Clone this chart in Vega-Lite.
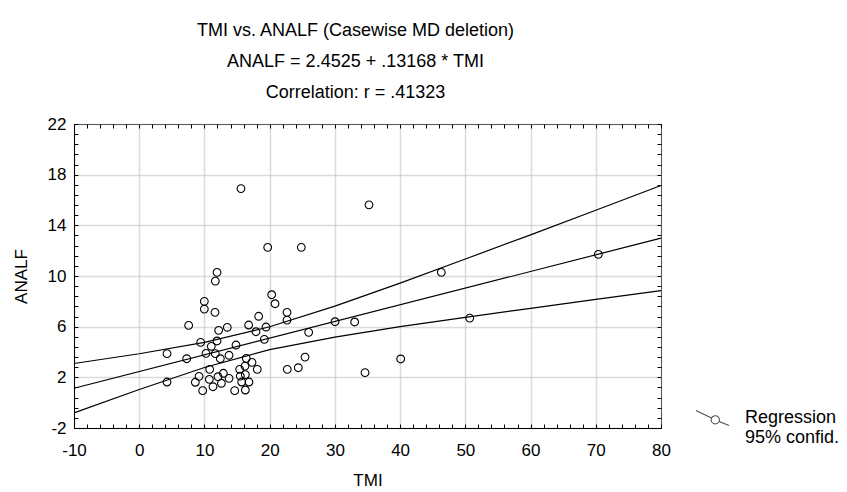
{
  "$schema": "https://vega.github.io/schema/vega-lite/v6.json",
  "width": 587,
  "height": 304,
  "autosize": {"type": "none"},
  "padding": {"left": 74, "top": 124, "right": 186, "bottom": 64},
  "background": "white",
  "config": {
    "font": "Liberation Sans",
    "view": {"stroke": "black", "strokeWidth": 1},
    "axis": {
      "labelFont": "Liberation Sans",
      "labelFontSize": 17,
      "labelColor": "black",
      "titleFont": "Liberation Sans",
      "titleFontSize": 17,
      "titleFontWeight": "normal",
      "titleColor": "black",
      "tickColor": "black",
      "domainColor": "black",
      "labelOverlap": false,
      "labelFlush": false,
      "labelBound": false,
      "gridColor": "#b8b8b8",
      "gridDash": [1, 1],
      "gridWidth": 1.5
    }
  },
  "title": {
    "text": ["TMI vs. ANALF (Casewise MD deletion)", "ANALF = 2.4525 + .13168 * TMI", "Correlation: r = .41323"],
    "font": "Liberation Sans",
    "fontSize": 18,
    "fontWeight": "normal",
    "color": "black",
    "lineHeight": 31,
    "anchor": "middle",
    "dx": -12,
    "offset": 13
  },
  "datasets": {
    "lines": [
      {"curve": "reg", "TMI": -10, "ANALF": 1.14},
      {"curve": "reg", "TMI": 80, "ANALF": 12.99},
      {"curve": "upper", "TMI": -10, "ANALF": 3.09},
      {"curve": "upper", "TMI": 0, "ANALF": 3.86},
      {"curve": "upper", "TMI": 10, "ANALF": 4.76},
      {"curve": "upper", "TMI": 20, "ANALF": 5.99},
      {"curve": "upper", "TMI": 30, "ANALF": 7.62},
      {"curve": "upper", "TMI": 40, "ANALF": 9.44},
      {"curve": "upper", "TMI": 50, "ANALF": 11.34},
      {"curve": "upper", "TMI": 60, "ANALF": 13.25},
      {"curve": "upper", "TMI": 70, "ANALF": 15.19},
      {"curve": "upper", "TMI": 80, "ANALF": 17.14},
      {"curve": "lower", "TMI": -10, "ANALF": -0.81},
      {"curve": "lower", "TMI": 0, "ANALF": 1.04},
      {"curve": "lower", "TMI": 10, "ANALF": 2.78},
      {"curve": "lower", "TMI": 20, "ANALF": 4.19},
      {"curve": "lower", "TMI": 30, "ANALF": 5.18},
      {"curve": "lower", "TMI": 40, "ANALF": 6.0},
      {"curve": "lower", "TMI": 50, "ANALF": 6.74},
      {"curve": "lower", "TMI": 60, "ANALF": 7.45},
      {"curve": "lower", "TMI": 70, "ANALF": 8.15},
      {"curve": "lower", "TMI": 80, "ANALF": 8.84}
    ],
    "pts": [
      {"TMI": 19.7, "ANALF": 12.26}, {"TMI": 24.85, "ANALF": 12.26}, {"TMI": 11.93, "ANALF": 10.29},
      {"TMI": 11.67, "ANALF": 9.6}, {"TMI": 9.98, "ANALF": 8.0}, {"TMI": 9.98, "ANALF": 7.39},
      {"TMI": 11.62, "ANALF": 7.13}, {"TMI": 20.31, "ANALF": 8.52}, {"TMI": 20.82, "ANALF": 7.81},
      {"TMI": 22.66, "ANALF": 7.13}, {"TMI": 22.66, "ANALF": 6.52}, {"TMI": 7.58, "ANALF": 6.1},
      {"TMI": 18.31, "ANALF": 6.82}, {"TMI": 16.78, "ANALF": 6.13}, {"TMI": 19.44, "ANALF": 5.97},
      {"TMI": 17.9, "ANALF": 5.6}, {"TMI": 19.18, "ANALF": 5.0}, {"TMI": 12.18, "ANALF": 5.71},
      {"TMI": 13.5, "ANALF": 5.95}, {"TMI": 11.93, "ANALF": 4.87}, {"TMI": 9.42, "ANALF": 4.76},
      {"TMI": 11.05, "ANALF": 4.45}, {"TMI": 14.84, "ANALF": 4.55}, {"TMI": 25.98, "ANALF": 5.55},
      {"TMI": 30.02, "ANALF": 6.39}, {"TMI": 4.26, "ANALF": 3.87}, {"TMI": 7.28, "ANALF": 3.47},
      {"TMI": 10.24, "ANALF": 3.89}, {"TMI": 11.67, "ANALF": 3.87}, {"TMI": 12.43, "ANALF": 3.47},
      {"TMI": 13.77, "ANALF": 3.74}, {"TMI": 16.42, "ANALF": 3.5}, {"TMI": 17.29, "ANALF": 3.18},
      {"TMI": 16.22, "ANALF": 2.89}, {"TMI": 18.1, "ANALF": 2.63}, {"TMI": 15.4, "ANALF": 2.63},
      {"TMI": 25.42, "ANALF": 3.6}, {"TMI": 22.7, "ANALF": 2.63}, {"TMI": 24.39, "ANALF": 2.76},
      {"TMI": 10.8, "ANALF": 2.63}, {"TMI": 4.26, "ANALF": 1.63}, {"TMI": 9.17, "ANALF": 2.08},
      {"TMI": 8.6, "ANALF": 1.61}, {"TMI": 10.75, "ANALF": 1.84}, {"TMI": 12.08, "ANALF": 2.05},
      {"TMI": 12.9, "ANALF": 2.32}, {"TMI": 13.77, "ANALF": 1.92}, {"TMI": 12.6, "ANALF": 1.53},
      {"TMI": 15.5, "ANALF": 2.1}, {"TMI": 16.27, "ANALF": 2.21}, {"TMI": 15.71, "ANALF": 1.63},
      {"TMI": 16.83, "ANALF": 1.63}, {"TMI": 9.73, "ANALF": 0.95}, {"TMI": 11.31, "ANALF": 1.26},
      {"TMI": 14.64, "ANALF": 0.95}, {"TMI": 16.27, "ANALF": 1.0}, {"TMI": 35.23, "ANALF": 15.62},
      {"TMI": 46.32, "ANALF": 10.29}, {"TMI": 70.39, "ANALF": 11.71}, {"TMI": 33.03, "ANALF": 6.37},
      {"TMI": 50.67, "ANALF": 6.68}, {"TMI": 40.09, "ANALF": 3.45}, {"TMI": 34.62, "ANALF": 2.37},
      {"TMI": 15.6, "ANALF": 16.9}
    ],
    "legendRows": [
      {"series": "Regression"},
      {"series": "95% confid."}
    ]
  },
  "layer": [
    {
      "data": {"name": "lines"},
      "mark": {"type": "line", "color": "black", "strokeWidth": 1.2},
      "encoding": {
        "x": {
          "field": "TMI", "type": "quantitative",
          "scale": {"domain": [-10, 80], "nice": false, "zero": false},
          "axis": {
            "orient": "bottom", "title": "TMI", "titlePadding": 14,
            "values": [-10,-8,-6,-4,-2,0,2,4,6,8,10,12,14,16,18,20,22,24,26,28,30,32,34,36,38,40,42,44,46,48,50,52,54,56,58,60,62,64,66,68,70,72,74,76,78,80],
            "labelExpr": "datum.value % 10 === 0 ? '' + datum.value : ''",
            "tickSize": -4, "labelPadding": 18,
            "gridOpacity": {"condition": {"test": "datum.value % 10 === 0", "value": 1}, "value": 0}
          }
        },
        "y": {
          "field": "ANALF", "type": "quantitative",
          "scale": {"domain": [-2, 22], "nice": false, "zero": false},
          "axis": {
            "orient": "left", "title": "ANALF", "titlePadding": 17,
            "values": [-2,-1.2,-0.4,0.4,1.2,2,2.8,3.6,4.4,5.2,6,6.8,7.6,8.4,9.2,10,10.8,11.6,12.4,13.2,14,14.8,15.6,16.4,17.2,18,18.8,19.6,20.4,21.2,22],
            "labelExpr": "(datum.value + 2) % 4 === 0 ? '' + datum.value : ''",
            "tickSize": -4, "labelPadding": 12,
            "gridOpacity": {"condition": {"test": "(datum.value + 2) % 4 === 0", "value": 1}, "value": 0}
          }
        },
        "detail": {"field": "curve"}
      }
    },
    {
      "data": {"name": "pts"},
      "mark": {"type": "point", "filled": false, "color": "black", "size": 60, "strokeWidth": 1.1, "opacity": 1},
      "encoding": {
        "x": {
          "field": "TMI", "type": "quantitative",
          "axis": {
            "orient": "top", "title": null, "labels": false, "grid": false, "domain": false,
            "values": [-10,-8,-6,-4,-2,0,2,4,6,8,10,12,14,16,18,20,22,24,26,28,30,32,34,36,38,40,42,44,46,48,50,52,54,56,58,60,62,64,66,68,70,72,74,76,78,80],
            "tickSize": -4
          }
        },
        "y": {
          "field": "ANALF", "type": "quantitative",
          "axis": {
            "orient": "right", "title": null, "labels": false, "grid": false, "domain": false,
            "values": [-2,-1.2,-0.4,0.4,1.2,2,2.8,3.6,4.4,5.2,6,6.8,7.6,8.4,9.2,10,10.8,11.6,12.4,13.2,14,14.8,15.6,16.4,17.2,18,18.8,19.6,20.4,21.2,22],
            "tickSize": -4
          }
        }
      }
    },
    {
      "data": {"name": "legendRows"},
      "mark": {"type": "point", "filled": false, "color": "black", "size": 0, "strokeWidth": 1.1},
      "encoding": {
        "shape": {
          "field": "series",
          "type": "nominal",
          "scale": {
            "domain": ["Regression", "95% confid."],
            "range": ["M-1,-0.45L-0.06,0M0.4,0.21L1,0.45M-0.08,0.11A0.25,0.25 0 1,0 0.42,0.11A0.25,0.25 0 1,0 -0.08,0.11", "M0,0"]
          },
          "legend": {
            "title": null,
            "orient": "none",
            "legendX": 621,
            "legendY": 284,
            "padding": 0,
            "rowPadding": 0,
            "clipHeight": 20,
            "symbolSize": 1089,
            "labelFont": "Liberation Sans",
            "labelFontSize": 18,
            "labelColor": "black",
            "labelOffset": 15,
            "symbolStrokeColor": "black",
            "symbolStrokeWidth": 1.1,
            "encode": {
              "symbols": {
                "size": {"value": 1089},
                "fill": {"value": "transparent"},
                "stroke": {"value": "black"},
                "opacity": {"value": 1}
              }
            }
          }
        }
      }
    }
  ],
  "resolve": {"axis": {"x": "independent", "y": "independent"}}
}
